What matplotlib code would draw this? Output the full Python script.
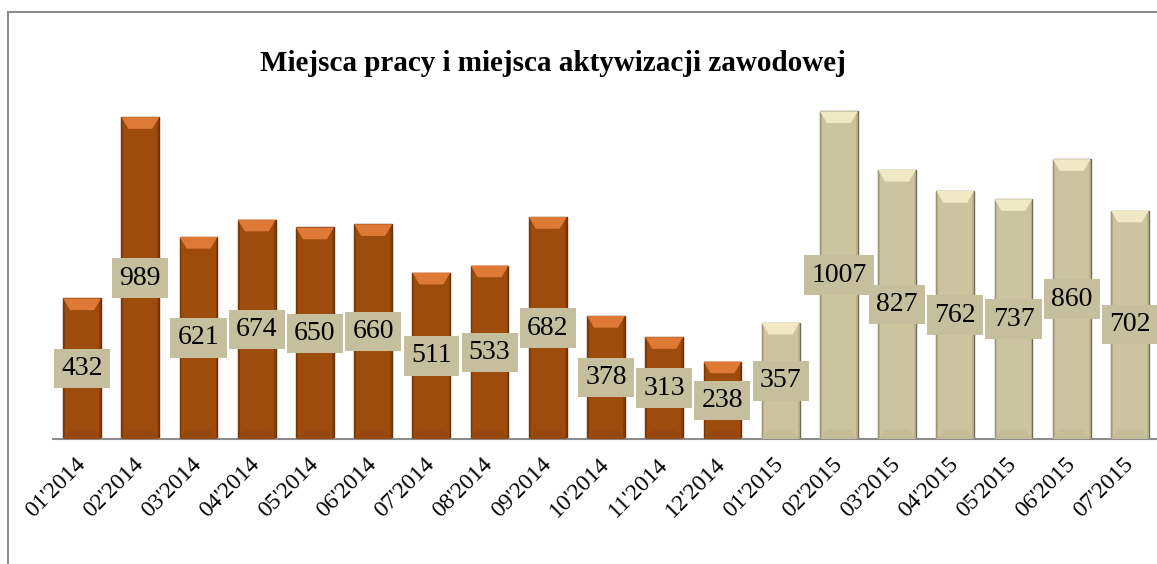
import matplotlib
matplotlib.use("Agg")
import matplotlib.pyplot as plt
from matplotlib.patches import Polygon, Rectangle
from matplotlib.lines import Line2D

categories = ["01'2014", "02'2014", "03'2014", "04'2014", "05'2014", "06'2014",
              "07'2014", "08'2014", "09'2014", "10'2014", "11'2014", "12'2014",
              "01'2015", "02'2015", "03'2015", "04'2015", "05'2015", "06'2015", "07'2015"]
values = [432, 989, 621, 674, 650, 660, 511, 533, 682, 378, 313, 238,
          357, 1007, 827, 762, 737, 860, 702]
years = [c[-4:] for c in categories]
title = "Miejsca pracy i miejsca aktywizacji zawodowej"

colors = {"2014": "#9E4C0E", "2015": "#CCC49F"}
bevel = {"2014": "#DE7A36", "2015": "#F0E9C4"}
bottom_bevel = {"2014": "#96480F", "2015": "#C5BD98"}
side = {"2014": "#7E3A08", "2015": "#B2AA86"}
edge = {"2014": "#6A3005", "2015": "#6F6A52"}

serif = ["Liberation Serif", "DejaVu Serif"]

fig = plt.figure(figsize=(11.57, 5.64), dpi=100)
ax = fig.add_axes([53/1157, 125/564, 1106/1157, 358/564])
x = list(range(len(values)))
w = 0.65
bar_colors = [colors[y] for y in years]
bars = ax.bar(x, values, width=w, color=bar_colors,
              edgecolor=[edge[y] for y in years], linewidth=1.0, zorder=2)
ax.set_xlim(-0.5, len(values) - 0.5)
ax.set_ylim(0, 1100)

# bevels on each bar (derived from data)
bh = 36
inset = 0.12
sw = 0.03
for xi, v, y in zip(x, values, years):
    ax.add_patch(Polygon([(xi - w/2, v), (xi + w/2, v), (xi + w/2 - inset, v - bh),
                          (xi - w/2 + inset, v - bh)], closed=True,
                         facecolor=bevel[y], edgecolor='none', zorder=3))
    ax.add_patch(Polygon([(xi - w/2, 0), (xi + w/2, 0), (xi + w/2 - inset, bh * 0.8),
                          (xi - w/2 + inset, bh * 0.8)], closed=True,
                         facecolor=bottom_bevel[y], edgecolor='none', zorder=3))
    ax.add_patch(Rectangle((xi - w/2, 0), sw, v - 2, facecolor=side[y],
                           edgecolor='none', zorder=2.5, alpha=0.7))
    ax.add_patch(Rectangle((xi + w/2 - sw, 0), sw, v - 2, facecolor=side[y],
                           edgecolor='none', zorder=2.5, alpha=0.7))
    ax.text(xi, v / 2, str(v), ha='center', va='center', fontsize=20,
            family=serif, color='black', zorder=5,
            bbox=dict(boxstyle='square,pad=0.26', facecolor='#C6BF9D', edgecolor='none'))

for s in ['top', 'right', 'left']:
    ax.spines[s].set_visible(False)
ax.spines['bottom'].set_color('#8C8C8C')
ax.spines['bottom'].set_linewidth(1.5)
ax.set_yticks([])
ax.set_xticks(x)
ax.set_xticklabels(categories, rotation=45, ha='right', va='center',
                   rotation_mode='anchor', fontsize=17, family=serif)
ax.tick_params(axis='x', length=0, pad=16)

fig.text(0.478, 0.888, title, ha='center', va='center', fontsize=21,
         fontweight='bold', family=serif)

# outer frame (top and left edges visible)
fig.add_artist(Line2D([8/1157, 8/1157], [0, 1 - 12/564], color='#8C8C8C', lw=1.5,
                      transform=fig.transFigure))
fig.add_artist(Line2D([8/1157, 1], [1 - 12/564, 1 - 12/564], color='#8C8C8C', lw=1.5,
                      transform=fig.transFigure))

fig.savefig("out.png", dpi=100)
